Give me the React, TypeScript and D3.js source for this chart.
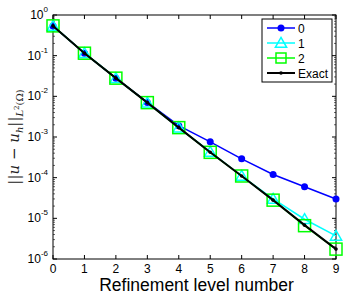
import React, { useEffect, useRef } from 'react';
import * as d3 from 'd3';

const levels = [0, 1, 2, 3, 4, 5, 6, 7, 8, 9];
const err0 = [0.54, 0.115, 0.028, 0.0071, 0.0019, 7.6e-4, 2.9e-4, 1.2e-4, 6.0e-5, 3.0e-5];
const err1 = [0.54, 0.115, 0.028, 0.007, 0.0017, 4.3e-4, 1.1e-4, 3.0e-5, 9.5e-6, 3.7e-6];
const err2 = [0.54, 0.115, 0.028, 0.007, 0.0017, 4.2e-4, 1.1e-4, 2.8e-5, 6.6e-6, 1.75e-6];
const exact = [0.54, 0.115, 0.028, 0.007, 0.0017, 4.2e-4, 1.1e-4, 2.8e-5, 6.8e-6, 1.75e-6];
const legendNames = ['0', '1', '2', 'Exact'];
const decades = [0, -1, -2, -3, -4, -5, -6];

const App = () => {
  const svgRef = useRef<SVGSVGElement>(null);

  useEffect(() => {
    const W = 349, H = 296;
    const svg = d3.select(svgRef.current).attr('width', W).attr('height', H);
    svg.selectAll('*').remove();
    svg.append('rect').attr('width', W).attr('height', H).attr('fill', '#fff');

    const L = 53, R = 336, T = 15, B = 259;
    const x = d3.scaleLinear().domain([0, 9]).range([L, R]);
    const y = d3.scaleLog().domain([1e-6, 1]).range([B, T]);
    const font = 'Liberation Sans, Arial, sans-serif';

    // axis frame
    svg.append('rect').attr('x', L).attr('y', T).attr('width', R - L).attr('height', B - T)
      .attr('fill', 'none').attr('stroke', '#000').attr('stroke-width', 1);

    // x ticks
    levels.forEach((v) => {
      svg.append('line').attr('x1', x(v)).attr('x2', x(v)).attr('y1', B).attr('y2', B - 4).attr('stroke', '#000');
      svg.append('line').attr('x1', x(v)).attr('x2', x(v)).attr('y1', T).attr('y2', T + 4).attr('stroke', '#000');
      svg.append('text').attr('x', x(v)).attr('y', B + 14).attr('text-anchor', 'middle')
        .attr('font-family', font).attr('font-size', 12).text(String(v));
    });

    // y ticks (major + minor)
    decades.forEach((e) => {
      const yy = y(Math.pow(10, e));
      svg.append('line').attr('x1', L).attr('x2', L + 4).attr('y1', yy).attr('y2', yy).attr('stroke', '#000');
      svg.append('line').attr('x1', R).attr('x2', R - 4).attr('y1', yy).attr('y2', yy).attr('stroke', '#000');
      const t = svg.append('text').attr('x', L - 5).attr('y', yy + 4).attr('text-anchor', 'end')
        .attr('font-family', font).attr('font-size', 12);
      t.append('tspan').text('10');
      t.append('tspan').attr('dy', -7).attr('font-size', 8).text(String(e));
      if (e > -6) {
        for (let m = 2; m <= 9; m++) {
          const ym = y(m * Math.pow(10, e - 1));
          svg.append('line').attr('x1', L).attr('x2', L + 2).attr('y1', ym).attr('y2', ym).attr('stroke', '#000').attr('stroke-width', 0.6);
          svg.append('line').attr('x1', R).attr('x2', R - 2).attr('y1', ym).attr('y2', ym).attr('stroke', '#000').attr('stroke-width', 0.6);
        }
      }
    });

    const line = d3.line<number>().x((_, i) => x(levels[i])).y((d) => y(d));
    const g = svg.append('g');

    // series 0
    g.append('path').attr('d', line(err0)).attr('fill', 'none').attr('stroke', '#0000ff').attr('stroke-width', 1.5);
    g.selectAll('.c0').data(err0).join('circle').attr('cx', (_, i) => x(levels[i])).attr('cy', (d) => y(d))
      .attr('r', 3.5).attr('fill', '#0000ff');

    // series 1
    const tri = d3.symbol().type(d3.symbolTriangle).size(55);
    g.append('path').attr('d', line(err1)).attr('fill', 'none').attr('stroke', '#00ffff').attr('stroke-width', 1.5);
    g.selectAll('.c1').data(err1).join('path').attr('d', tri())
      .attr('transform', (d, i) => `translate(${x(levels[i])},${y(d) + 1})`)
      .attr('fill', 'none').attr('stroke', '#00ffff').attr('stroke-width', 1.5);

    // series 2
    g.append('path').attr('d', line(err2)).attr('fill', 'none').attr('stroke', '#00ff00').attr('stroke-width', 1.5);
    g.selectAll('.c2').data(err2).join('rect').attr('x', (_, i) => x(levels[i]) - 6).attr('y', (d) => y(d) - 6)
      .attr('width', 12).attr('height', 12).attr('fill', 'none').attr('stroke', '#00ff00').attr('stroke-width', 1.5);

    // exact
    g.append('path').attr('d', line(exact)).attr('fill', 'none').attr('stroke', '#000').attr('stroke-width', 2);
    g.selectAll('.ce').data(exact).join('circle').attr('cx', (_, i) => x(levels[i])).attr('cy', (d) => y(d))
      .attr('r', 1.8).attr('fill', '#000');

    // legend
    const lg = svg.append('g');
    lg.append('rect').attr('x', 262).attr('y', 19).attr('width', 70).attr('height', 63)
      .attr('fill', '#fff').attr('stroke', '#000').attr('stroke-width', 1);
    const colors = ['#0000ff', '#00ffff', '#00ff00', '#000'];
    legendNames.forEach((name, i) => {
      const ly = 28 + i * 15;
      lg.append('line').attr('x1', 267).attr('x2', 295).attr('y1', ly).attr('y2', ly)
        .attr('stroke', colors[i]).attr('stroke-width', i === 3 ? 2 : 1.5);
      if (i === 0) lg.append('circle').attr('cx', 281).attr('cy', ly).attr('r', 3.5).attr('fill', colors[i]);
      if (i === 1) lg.append('path').attr('d', tri()).attr('transform', `translate(281,${ly + 1})`)
        .attr('fill', 'none').attr('stroke', colors[i]).attr('stroke-width', 1.5);
      if (i === 2) lg.append('rect').attr('x', 276).attr('y', ly - 5).attr('width', 10).attr('height', 10)
        .attr('fill', 'none').attr('stroke', colors[i]).attr('stroke-width', 1.5);
      if (i === 3) lg.append('circle').attr('cx', 281).attr('cy', ly).attr('r', 1.8).attr('fill', colors[i]);
      lg.append('text').attr('x', 298).attr('y', ly + 4.5).attr('font-family', font).attr('font-size', 12).text(name);
    });

    // axis labels
    svg.append('text').attr('x', (L + R) / 2 + 2).attr('y', 291).attr('text-anchor', 'middle')
      .attr('font-family', font).attr('font-size', 17.5).text('Refinement level number');

    const yl = svg.append('text').attr('transform', `translate(19,${(T + B) / 2}) rotate(-90)`)
      .attr('text-anchor', 'middle').attr('font-family', 'DejaVu Serif, serif').attr('font-size', 15).attr('fill', '#222');
    yl.append('tspan').text('||');
    yl.append('tspan').attr('font-style', 'italic').text('u');
    yl.append('tspan').text(' − ');
    yl.append('tspan').attr('font-style', 'italic').text('u');
    yl.append('tspan').attr('font-style', 'italic').attr('font-size', 10).attr('dy', 4).text('h');
    yl.append('tspan').attr('dy', -4).text('||');
    yl.append('tspan').attr('font-style', 'italic').attr('font-size', 10).attr('dy', 4).text('L');
    yl.append('tspan').attr('font-size', 7).attr('dy', -4).text('2');
    yl.append('tspan').attr('font-size', 10).attr('dy', 4).text('(Ω)');
  }, []);

  return (
    <div style={{ position: 'absolute', left: 0, top: 0 }}>
      <svg ref={svgRef}></svg>
    </div>
  );
};

export default App;
